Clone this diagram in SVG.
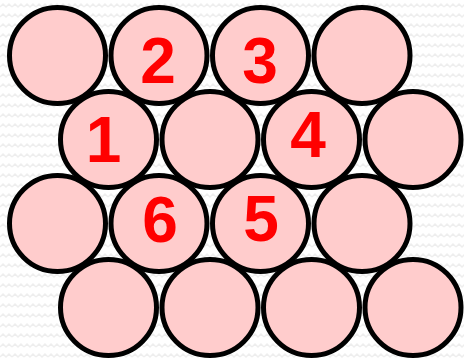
<svg xmlns="http://www.w3.org/2000/svg" width="464" height="361" viewBox="0 0 464 361">
<defs>
<pattern id="zz" width="12" height="10" patternUnits="userSpaceOnUse">
<polyline points="0,7 3,4 6,7 9,4 12,7" fill="none" stroke="#eeeeee" stroke-width="1.5"/>
</pattern>
<style>
.c{fill:#ffcccc;stroke:#000;stroke-width:5}
.t{font-family:"Liberation Sans",Arial,sans-serif;font-weight:bold;font-size:64px;fill:#ff0000;text-anchor:middle}
</style>
</defs>
<rect width="464" height="361" fill="#ffffff"/>
<rect width="464" height="361" fill="url(#zz)"/>
<g id="r1c1"><circle class="c" cx="57.5" cy="55.5" r="48"/></g>
<g id="n2"><circle class="c" cx="159" cy="55.5" r="48"/><text class="t" x="158" y="83">2</text></g>
<g id="n3"><circle class="c" cx="260.5" cy="55.5" r="48"/><text class="t" x="260" y="83">3</text></g>
<g id="r1c4"><circle class="c" cx="362" cy="55.5" r="48"/></g>
<g id="n1"><circle class="c" cx="108.5" cy="139.5" r="48"/><text class="t" x="103.5" y="162">1</text></g>
<g id="r2c2"><circle class="c" cx="210" cy="139.5" r="48"/></g>
<g id="n4"><circle class="c" cx="311.5" cy="139.5" r="48"/><text class="t" x="308" y="157">4</text></g>
<g id="r2c4"><circle class="c" cx="413" cy="139.5" r="48"/></g>
<g id="r3c1"><circle class="c" cx="57.5" cy="223.5" r="48"/></g>
<g id="n6"><circle class="c" cx="159" cy="223.5" r="48"/><text class="t" x="160" y="242">6</text></g>
<g id="n5"><circle class="c" cx="260.5" cy="223.5" r="48"/><text class="t" x="261" y="241">5</text></g>
<g id="r3c4"><circle class="c" cx="362" cy="223.5" r="48"/></g>
<g id="r4c1"><circle class="c" cx="108.5" cy="307.5" r="48"/></g>
<g id="r4c2"><circle class="c" cx="210" cy="307.5" r="48"/></g>
<g id="r4c3"><circle class="c" cx="311.5" cy="307.5" r="48"/></g>
<g id="r4c4"><circle class="c" cx="413" cy="307.5" r="48"/></g>
<g id="connectors"/>
</svg>
